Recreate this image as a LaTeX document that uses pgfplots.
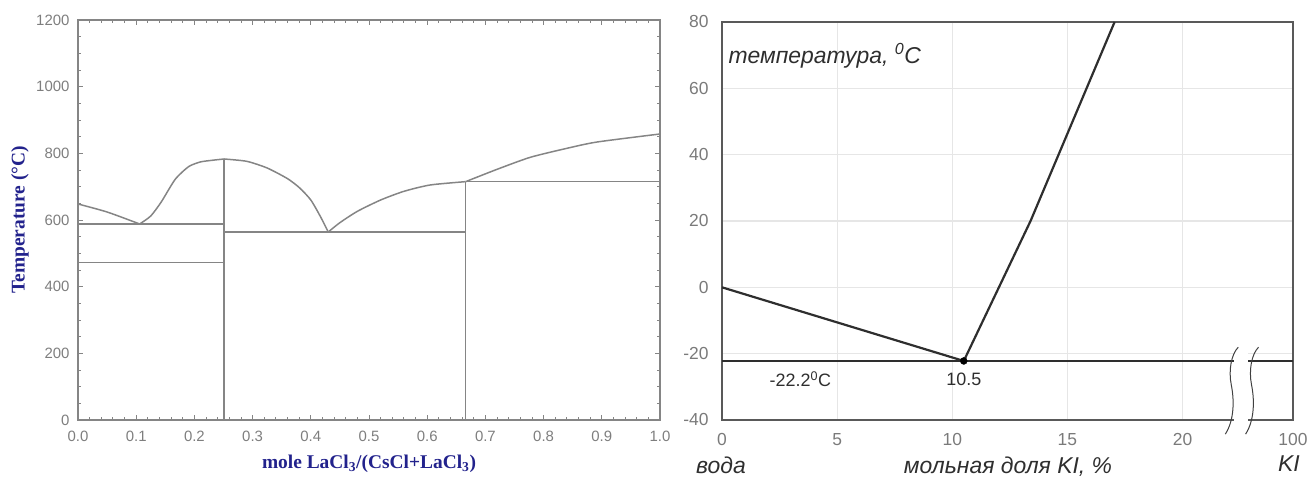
\documentclass[border=0pt]{standalone}
\usepackage{pgfplots}
\pgfplotsset{compat=1.18}
\usetikzlibrary{calc}
\usepackage{fontspec}
\setmainfont{Liberation Sans}
\newfontfamily\serif{Liberation Serif}
\definecolor{tickgrey}{HTML}{7E7E7E}
\definecolor{lgrey}{HTML}{858585}
\definecolor{labelblue}{HTML}{22228C}
\definecolor{dark}{HTML}{2E2E2E}
\definecolor{gridc}{HTML}{E6E6E6}
\definecolor{rtick}{HTML}{7A7A7A}
\begin{document}
\begin{tikzpicture}[x=1bp,y=1bp]
\useasboundingbox (0,0) rectangle (1310,477);
% ---------------- left panel ----------------
\begin{axis}[at={(78bp,57bp)}, anchor=south west, scale only axis,
  width=582bp, height=400bp,
  xmin=0, xmax=1, ymin=0, ymax=1200,
  xtick={0,0.1,0.2,0.3,0.4,0.5,0.6,0.7,0.8,0.9,1.0},
  xticklabels={0.0,0.1,0.2,0.3,0.4,0.5,0.6,0.7,0.8,0.9,1.0},
  ytick={0,200,400,600,800,1000,1200},
  minor x tick num=4, minor y tick num=3,
  tick align=inside, major tick length=5bp, minor tick length=3bp,
  tick style={lgrey, line width=0.9bp},
  axis line style={draw=lgrey, line width=1.3bp},
  /pgf/number format/assume math mode=true,
  /pgf/number format/1000 sep={},
  tick label style={font=\fontsize{15}{15}\selectfont, text=tickgrey},
  xticklabel style={yshift=-8bp},
  yticklabel style={xshift=-5bp},
  clip=false]
\addplot[lgrey, line width=1.5bp, smooth, tension=0.4] coordinates {(0,648) (0.05,624) (0.106,588)};
\addplot[lgrey, line width=1.5bp, smooth, tension=0.4] coordinates {(0.106,588) (0.125,612) (0.143,654) (0.167,722) (0.19,760) (0.21,774) (0.23,779) (0.251,783)};
\addplot[lgrey, line width=1.5bp, smooth, tension=0.4] coordinates {(0.251,783) (0.29,776) (0.325,756) (0.36,724) (0.381,696) (0.40,660) (0.416,612) (0.43,564)};
\addplot[lgrey, line width=1.5bp, smooth, tension=0.4] coordinates {(0.43,564) (0.45,592) (0.48,626) (0.52,660) (0.56,686) (0.605,705) (0.666,715)};
\addplot[lgrey, line width=1.5bp, smooth, tension=0.4] coordinates {(0.666,715) (0.72,752) (0.777,788) (0.84,815) (0.892,834) (1.0,858)};
\addplot[lgrey, line width=1.5bp] coordinates {(0,588) (0.251,588)};
\addplot[lgrey, line width=1.5bp] coordinates {(0,472) (0.251,472)};
\addplot[lgrey, line width=1.5bp] coordinates {(0.251,0) (0.251,783)};
\addplot[lgrey, line width=1.5bp] coordinates {(0.251,564) (0.666,564)};
\addplot[lgrey, line width=1.5bp] coordinates {(0.666,0) (0.666,715)};
\addplot[lgrey, line width=1.5bp] coordinates {(0.666,715) (1,715)};
\end{axis}
\node[rotate=90, text=labelblue, font=\serif\bfseries\fontsize{19.5}{19.5}\selectfont] at (20,257) {Temperature (°C)};
\node[text=labelblue, font=\serif\bfseries\fontsize{19.5}{19.5}\selectfont] at (369,13) {mole LaCl\textsubscript{3}/(CsCl+LaCl\textsubscript{3})};
% ---------------- right panel ----------------
\begin{axis}[at={(722bp,57bp)}, anchor=south west, scale only axis,
  width=571bp, height=398bp,
  xmin=0, xmax=24.8, ymin=-40, ymax=80,
  xtick={0,5,10,15,20,24.8},
  xticklabels={0,5,10,15,20,100},
  ytick={-40,-20,0,20,40,60,80},
  grid=major, grid style={gridc, line width=1.2bp},
  major tick length=0pt,
  axis line style={draw=black!65, line width=1.4bp},
  /pgf/number format/assume math mode=true,
  tick label style={font=\fontsize{17.5}{17.5}\selectfont, text=rtick},
  xticklabel style={yshift=-10bp},
  yticklabel style={xshift=-10bp},
  clip=false]
\addplot[dark, line width=2.2bp] coordinates {(0,-22.2) (24.8,-22.2)};
\addplot[dark, line width=2.2bp] coordinates {(0,0) (10.5,-22.2)};
\addplot[dark, line width=2.2bp] coordinates {(10.5,-22.2) (13.4,20) (17.05,80)};
\addplot[only marks, mark=*, mark size=3.5bp, black] coordinates {(10.5,-22.2)};
\coordinate (gapA) at (axis cs:22.25,-19);
\coordinate (gapB) at (axis cs:22.85,-41);
\coordinate (b1) at (axis cs:22.12,-31);
\coordinate (b2) at (axis cs:23.0,-31);
\node[font=\fontsize{18}{18}\selectfont, text=dark, anchor=center] at (axis cs:3.4,-27.6) {-22.2\textsuperscript{0}C};
\node[font=\fontsize{18}{18}\selectfont, text=dark, anchor=center] at (axis cs:10.5,-27.6) {10.5};
\end{axis}
\fill[white] (gapA) rectangle (gapB);
\foreach \p in {b1,b2}{
  \draw[black!75, line width=1bp] ($(\p)+(7,43)$) .. controls ($(\p)+(0,36)$) and ($(\p)+(-3,20)$) .. ($(\p)+(0,5)$)
     .. controls ($(\p)+(3,-10)$) and ($(\p)+(3,-30)$) .. ($(\p)+(-6,-44)$);
}
\node[anchor=base west, font=\itshape\fontsize{23}{23}\selectfont, text=dark] at (725,413) {температура, \textsuperscript{0}C};
\node[anchor=base, font=\itshape\fontsize{23}{23}\selectfont, text=dark] at (721,3) {вода};
\node[anchor=base, font=\itshape\fontsize{23}{23}\selectfont, text=dark] at (1008,3) {мольная доля KI, \%};
\node[anchor=base, font=\itshape\fontsize{23}{23}\selectfont, text=dark] at (1289,5) {KI};
\end{tikzpicture}
\end{document}
